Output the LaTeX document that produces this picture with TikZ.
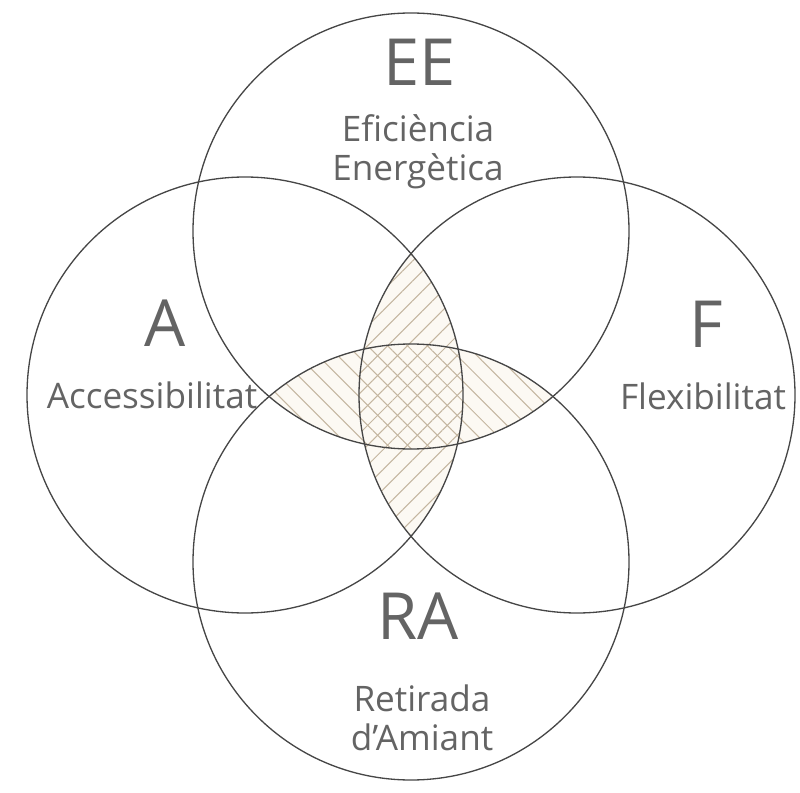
\documentclass[tikz,border=0pt]{standalone}
\usepackage{fontspec}
\setmainfont{Open Sans}
\usetikzlibrary{patterns.meta}
\definecolor{circlegray}{RGB}{70,70,70}
\definecolor{textgray}{RGB}{100,100,100}
\definecolor{hatchtan}{RGB}{196,182,160}
\definecolor{lenscream}{RGB}{252,249,243}

\begin{document}
\begin{tikzpicture}[x=0.02cm, y=-0.02cm,
    bigtag/.style={text=textgray, font=\fontsize{37}{40}\selectfont},
    smalltag/.style={text=textgray, align=center, font=\fontsize{20}{22}\selectfont},
    hatchA/.style={pattern={Lines[angle=45,distance=8pt,line width=0.6pt]}, pattern color=hatchtan},
    hatchB/.style={pattern={Lines[angle=-45,distance=8pt,line width=0.6pt]}, pattern color=hatchtan}]
  \useasboundingbox (0,0) rectangle (800,793);
  \def\rad{218}
  \coordinate (ee) at (411,231);
  \coordinate (ac) at (245,395);
  \coordinate (fl) at (577,395);
  \coordinate (ra) at (411,562);

  % cream ground of both lenses
  \begin{scope}
    \clip (ac) circle[radius=\rad];
    \fill[lenscream] (fl) circle[radius=\rad];
  \end{scope}
  \begin{scope}
    \clip (ee) circle[radius=\rad];
    \fill[lenscream] (ra) circle[radius=\rad];
  \end{scope}
  % lens of A and F
  \begin{scope}
    \clip (ac) circle[radius=\rad];
    \fill[hatchA] (fl) circle[radius=\rad];
  \end{scope}
  % lens of EE and RA
  \begin{scope}
    \clip (ee) circle[radius=\rad];
    \fill[hatchB] (ra) circle[radius=\rad];
  \end{scope}

  \foreach \c in {ee,ac,fl,ra}
    \draw[circlegray, line width=0.75pt] (\c) circle[radius=\rad];

  \node[bigtag] (eeT) at (420,62) {EE};
  \node[smalltag] (eeL) at (418,152) {Eficiència\\Energètica};
  \node[bigtag] (acT) at (165,323) {A};
  \node[smalltag] (acL) at (152,395) {Accessibilitat};
  \node[bigtag] (flT) at (706,324) {F};
  \node[smalltag] (flL) at (703,396) {Flexibilitat};
  \node[bigtag] (raT) at (418,616) {RA};
  \node[smalltag] (raL) at (422,718) {Retirada\\d’Amiant};
\end{tikzpicture}
\end{document}
